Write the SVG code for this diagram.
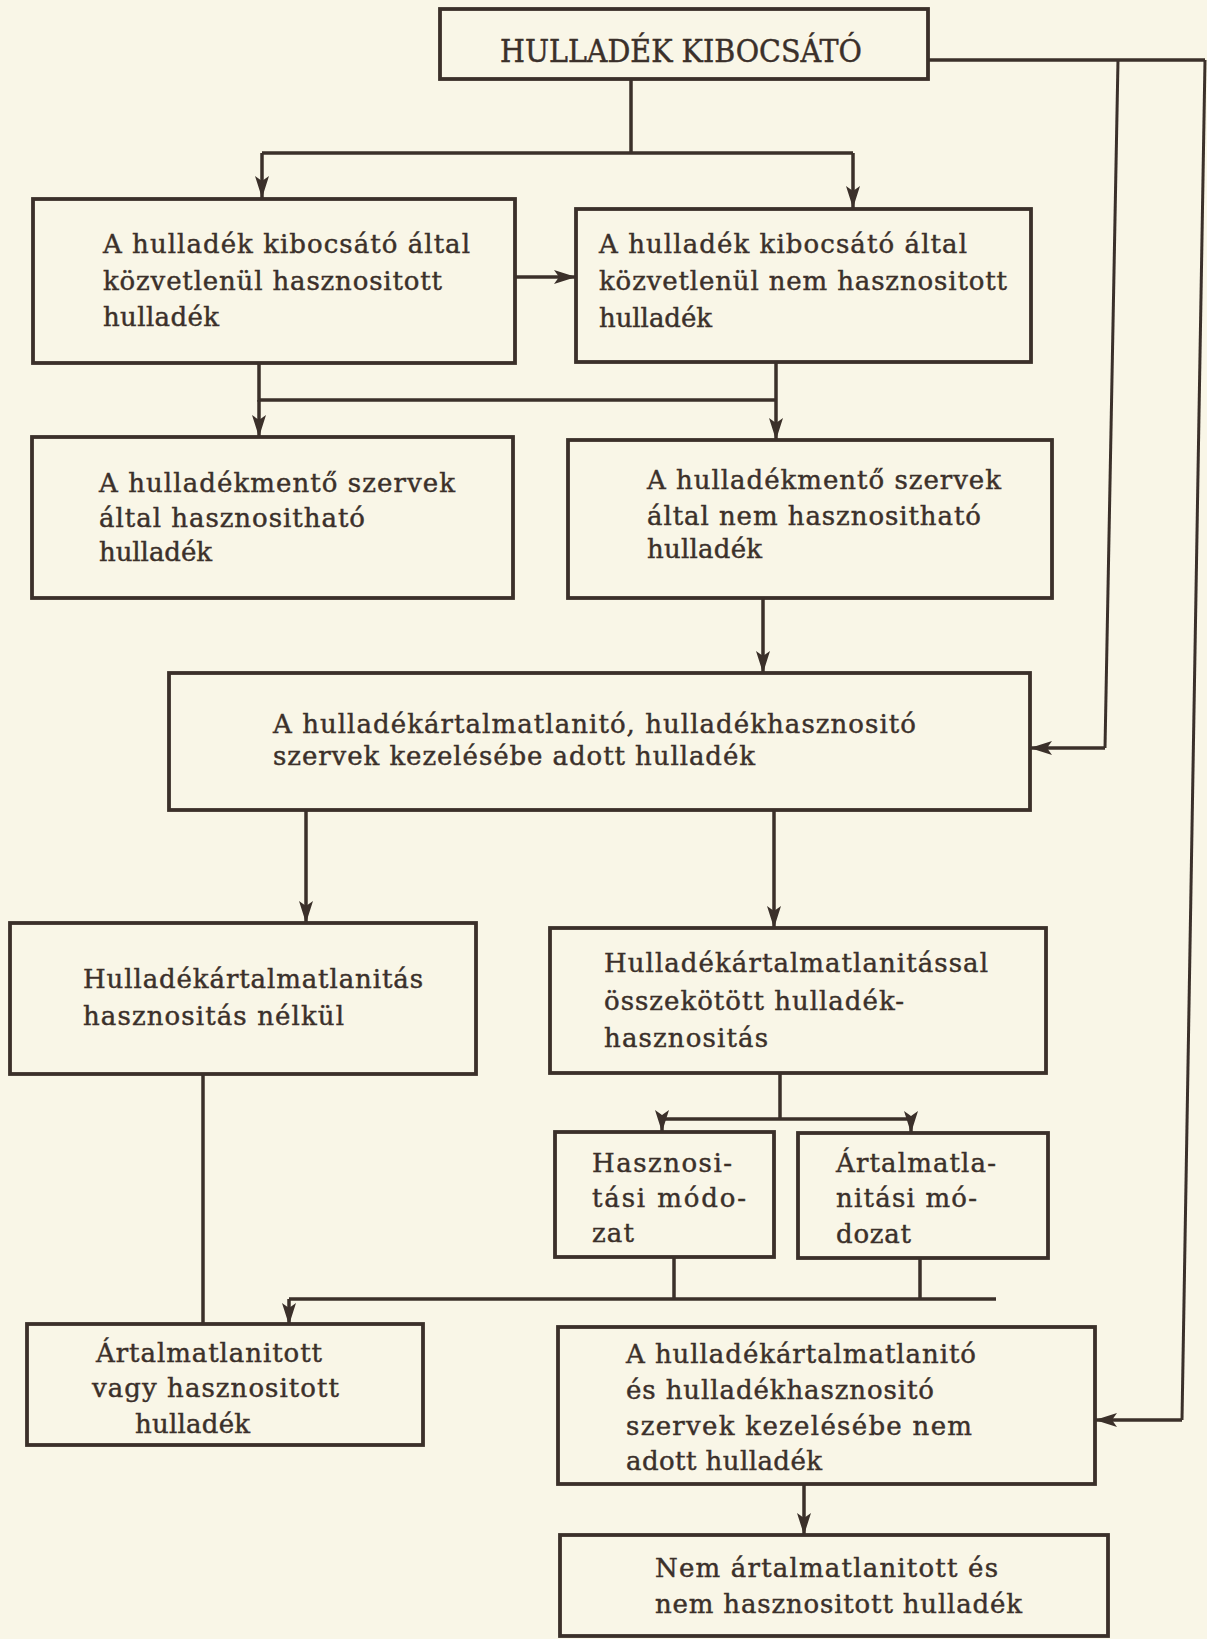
<svg xmlns="http://www.w3.org/2000/svg" width="1207" height="1639" viewBox="0 0 1207 1639">
<style>
.bg{fill:#f9f6e7}
.box{fill:none;stroke:#3b302a;stroke-width:3.8}
.ln{fill:none;stroke:#3b302a;stroke-width:3.5;stroke-linejoin:miter}
.ln2{fill:none;stroke:#3b302a;stroke-width:3}
text{font-family:"DejaVu Serif","Liberation Serif",serif;font-size:26px;fill:#3b302a;stroke:#3b302a;stroke-width:0.45}
.title{font-size:31px}
</style>
<defs>
<marker id="ah" viewBox="0 0 22 14" markerWidth="22" markerHeight="14" refX="22" refY="7" orient="auto" markerUnits="userSpaceOnUse">
<path d="M0,0 L22,7 L0,14 L5,7 z" fill="#3b302a"/>
</marker>
</defs>
<rect class="bg" x="0" y="0" width="1207" height="1639"/>

<g id="connectors">
<path class="ln" d="M631,79 V153 M262,153 H853"/>
<path class="ln" d="M262,153 V198" marker-end="url(#ah)"/>
<path class="ln" d="M853,153 V208" marker-end="url(#ah)"/>
<path class="ln" d="M515,277 H576" marker-end="url(#ah)"/>
<path class="ln" d="M259,363 V400 H776 M776,362 V400"/>
<path class="ln" d="M259,400 V437" marker-end="url(#ah)"/>
<path class="ln" d="M776,400 V440" marker-end="url(#ah)"/>
<path class="ln" d="M763,598 V673" marker-end="url(#ah)"/>
<path class="ln" d="M928,60 H1205"/>
<path class="ln2" d="M1205,60 L1182,1420"/>
<path class="ln" d="M1182,1420 H1095" marker-end="url(#ah)"/>
<path class="ln2" d="M1118,60 L1105,748"/>
<path class="ln" d="M1105,748 H1030" marker-end="url(#ah)"/>
<path class="ln" d="M306,810 V923" marker-end="url(#ah)"/>
<path class="ln" d="M774,810 V928" marker-end="url(#ah)"/>
<path class="ln" d="M780,1073 V1119 M662,1119 H911"/>
<path class="ln" d="M662,1119 V1132" marker-end="url(#ah)"/>
<path class="ln" d="M911,1119 V1133" marker-end="url(#ah)"/>
<path class="ln" d="M674,1257 V1299 M920,1258 V1299 M289,1299 H996"/>
<path class="ln" d="M289,1299 V1325" marker-end="url(#ah)"/>
<path class="ln" d="M203,1074 V1324"/>
<path class="ln" d="M804,1484 V1535" marker-end="url(#ah)"/>
</g>

<g id="n0">
<rect class="box" x="440" y="9" width="488" height="70"/>
<text class="title" x="500" y="62" textLength="362" lengthAdjust="spacingAndGlyphs">HULLADÉK KIBOCSÁTÓ</text>
</g>

<g id="n1">
<rect class="box" x="33" y="199" width="482" height="164"/>
<text x="103" y="253" textLength="367">A hulladék kibocsátó által</text>
<text x="103" y="290" textLength="339">közvetlenül hasznositott</text>
<text x="103" y="326" textLength="116">hulladék</text>
</g>

<g id="n2">
<rect class="box" x="576" y="209" width="455" height="153"/>
<text x="599" y="253" textLength="368">A hulladék kibocsátó által</text>
<text x="599" y="290" textLength="408">közvetlenül nem hasznositott</text>
<text x="599" y="327" textLength="113">hulladék</text>
</g>

<g id="n3">
<rect class="box" x="32" y="437" width="481" height="161"/>
<text x="99" y="492" textLength="356">A hulladékmentő szervek</text>
<text x="99" y="527" textLength="266">által hasznositható</text>
<text x="99" y="561" textLength="113">hulladék</text>
</g>

<g id="n4">
<rect class="box" x="568" y="440" width="484" height="158"/>
<text x="647" y="489" textLength="354">A hulladékmentő szervek</text>
<text x="647" y="525" textLength="334">által nem hasznositható</text>
<text x="647" y="558" textLength="115">hulladék</text>
</g>

<g id="n5">
<rect class="box" x="169" y="673" width="861" height="137"/>
<text x="273" y="733" textLength="643">A hulladékártalmatlanitó, hulladékhasznositó</text>
<text x="273" y="765" textLength="482">szervek kezelésébe adott hulladék</text>
</g>

<g id="n6">
<rect class="box" x="10" y="923" width="466" height="151"/>
<text x="83" y="988" textLength="340">Hulladékártalmatlanitás</text>
<text x="83" y="1025" textLength="261">hasznositás nélkül</text>
</g>

<g id="n7">
<rect class="box" x="550" y="928" width="496" height="145"/>
<text x="604" y="972" textLength="384">Hulladékártalmatlanitással</text>
<text x="604" y="1010" textLength="300">összekötött hulladék-</text>
<text x="604" y="1047" textLength="164">hasznositás</text>
</g>

<g id="n8">
<rect class="box" x="555" y="1132" width="219" height="125"/>
<text x="592" y="1172" textLength="140">Hasznosi-</text>
<text x="592" y="1207" textLength="154">tási módo-</text>
<text x="592" y="1242" textLength="42">zat</text>
</g>

<g id="n9">
<rect class="box" x="798" y="1133" width="250" height="125"/>
<text x="836" y="1172" textLength="160">Ártalmatla-</text>
<text x="836" y="1207" textLength="141">nitási mó-</text>
<text x="836" y="1243" textLength="75">dozat</text>
</g>

<g id="n10">
<rect class="box" x="27" y="1324" width="396" height="121"/>
<text x="96" y="1362" textLength="226">Ártalmatlanitott</text>
<text x="92" y="1397" textLength="247">vagy hasznositott</text>
<text x="135" y="1433" textLength="115">hulladék</text>
</g>

<g id="n11">
<rect class="box" x="558" y="1327" width="537" height="157"/>
<text x="626" y="1363" textLength="350">A hulladékártalmatlanitó</text>
<text x="626" y="1399" textLength="308">és hulladékhasznositó</text>
<text x="626" y="1435" textLength="346">szervek kezelésébe nem</text>
<text x="626" y="1470" textLength="196">adott hulladék</text>
</g>

<g id="n12">
<rect class="box" x="560" y="1535" width="548" height="101"/>
<text x="655" y="1577" textLength="343">Nem ártalmatlanitott és</text>
<text x="655" y="1613" textLength="367">nem hasznositott hulladék</text>
</g>
</svg>
